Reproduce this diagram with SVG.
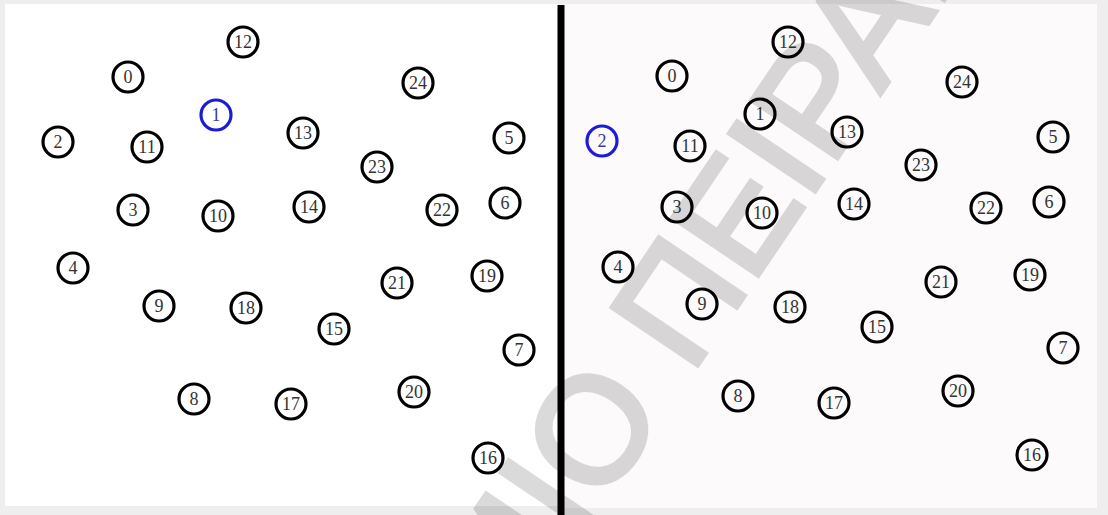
<svg xmlns="http://www.w3.org/2000/svg" width="1108" height="515" viewBox="0 0 1108 515">
  <style>
    .n circle { fill: none; stroke: #000; stroke-width: 3.2; }
    .n text { font-family: "Liberation Serif", "Times New Roman", serif; font-size: 18px; fill: #333; text-anchor: middle; dominant-baseline: central; }
    .sel circle { stroke: #1c1cd8; }
    .sel text { fill: #3a3aa0; }
    .wm { font-family: "Liberation Sans", Arial, sans-serif; font-size: 150px; fill: #000; stroke: #000; stroke-width: 5; }
  </style>
  <rect x="0" y="0" width="1108" height="515" fill="#eeeeee"/>
  <rect x="5" y="4" width="553" height="502" fill="#ffffff"/>
  <rect x="562" y="4" width="535" height="504" fill="#fcfafb"/>
  <rect id="divider" x="557.5" y="5" width="7" height="510" fill="#000"/>

  <g id="left-panel">
    <g id="L0" class="n"><circle cx="128" cy="77" r="15"/><text x="128" y="77">0</text></g>
    <g id="L1" class="n sel"><circle cx="216" cy="115" r="15"/><text x="216" y="115">1</text></g>
    <g id="L2" class="n"><circle cx="58" cy="142" r="15"/><text x="58" y="142">2</text></g>
    <g id="L3" class="n"><circle cx="133" cy="210" r="15"/><text x="133" y="210">3</text></g>
    <g id="L4" class="n"><circle cx="73" cy="268" r="15"/><text x="73" y="268">4</text></g>
    <g id="L5" class="n"><circle cx="509" cy="138" r="15"/><text x="509" y="138">5</text></g>
    <g id="L6" class="n"><circle cx="505" cy="203" r="15"/><text x="505" y="203">6</text></g>
    <g id="L7" class="n"><circle cx="519" cy="350" r="15"/><text x="519" y="350">7</text></g>
    <g id="L8" class="n"><circle cx="194" cy="399" r="15"/><text x="194" y="399">8</text></g>
    <g id="L9" class="n"><circle cx="159" cy="306" r="15"/><text x="159" y="306">9</text></g>
    <g id="L10" class="n"><circle cx="218" cy="216" r="15"/><text x="218" y="216">10</text></g>
    <g id="L11" class="n"><circle cx="147" cy="147" r="15"/><text x="147" y="147">11</text></g>
    <g id="L12" class="n"><circle cx="243" cy="42" r="15"/><text x="243" y="42">12</text></g>
    <g id="L13" class="n"><circle cx="303" cy="133" r="15"/><text x="303" y="133">13</text></g>
    <g id="L14" class="n"><circle cx="309" cy="207" r="15"/><text x="309" y="207">14</text></g>
    <g id="L15" class="n"><circle cx="334" cy="329" r="15"/><text x="334" y="329">15</text></g>
    <g id="L16" class="n"><circle cx="488" cy="458" r="15"/><text x="488" y="458">16</text></g>
    <g id="L17" class="n"><circle cx="291" cy="404" r="15"/><text x="291" y="404">17</text></g>
    <g id="L18" class="n"><circle cx="246" cy="308" r="15"/><text x="246" y="308">18</text></g>
    <g id="L19" class="n"><circle cx="487" cy="276" r="15"/><text x="487" y="276">19</text></g>
    <g id="L20" class="n"><circle cx="414" cy="392" r="15"/><text x="414" y="392">20</text></g>
    <g id="L21" class="n"><circle cx="397" cy="283" r="15"/><text x="397" y="283">21</text></g>
    <g id="L22" class="n"><circle cx="442" cy="210" r="15"/><text x="442" y="210">22</text></g>
    <g id="L23" class="n"><circle cx="377" cy="167" r="15"/><text x="377" y="167">23</text></g>
    <g id="L24" class="n"><circle cx="418" cy="83" r="15"/><text x="418" y="83">24</text></g>
  </g>

  <g id="right-panel">
    <g id="R0" class="n"><circle cx="672" cy="76" r="15"/><text x="672" y="76">0</text></g>
    <g id="R1" class="n"><circle cx="760" cy="114" r="15"/><text x="760" y="114">1</text></g>
    <g id="R2" class="n sel"><circle cx="602" cy="141" r="15"/><text x="602" y="141">2</text></g>
    <g id="R3" class="n"><circle cx="677" cy="207" r="15"/><text x="677" y="207">3</text></g>
    <g id="R4" class="n"><circle cx="618" cy="267" r="15"/><text x="618" y="267">4</text></g>
    <g id="R5" class="n"><circle cx="1053" cy="137" r="15"/><text x="1053" y="137">5</text></g>
    <g id="R6" class="n"><circle cx="1049" cy="202" r="15"/><text x="1049" y="202">6</text></g>
    <g id="R7" class="n"><circle cx="1063" cy="348" r="15"/><text x="1063" y="348">7</text></g>
    <g id="R8" class="n"><circle cx="738" cy="396" r="15"/><text x="738" y="396">8</text></g>
    <g id="R9" class="n"><circle cx="702" cy="304" r="15"/><text x="702" y="304">9</text></g>
    <g id="R10" class="n"><circle cx="762" cy="213" r="15"/><text x="762" y="213">10</text></g>
    <g id="R11" class="n"><circle cx="690" cy="146" r="15"/><text x="690" y="146">11</text></g>
    <g id="R12" class="n"><circle cx="788" cy="42" r="15"/><text x="788" y="42">12</text></g>
    <g id="R13" class="n"><circle cx="847" cy="132" r="15"/><text x="847" y="132">13</text></g>
    <g id="R14" class="n"><circle cx="854" cy="204" r="15"/><text x="854" y="204">14</text></g>
    <g id="R15" class="n"><circle cx="877" cy="327" r="15"/><text x="877" y="327">15</text></g>
    <g id="R16" class="n"><circle cx="1032" cy="455" r="15"/><text x="1032" y="455">16</text></g>
    <g id="R17" class="n"><circle cx="834" cy="403" r="15"/><text x="834" y="403">17</text></g>
    <g id="R18" class="n"><circle cx="790" cy="307" r="15"/><text x="790" y="307">18</text></g>
    <g id="R19" class="n"><circle cx="1030" cy="275" r="15"/><text x="1030" y="275">19</text></g>
    <g id="R20" class="n"><circle cx="958" cy="391" r="15"/><text x="958" y="391">20</text></g>
    <g id="R21" class="n"><circle cx="941" cy="282" r="15"/><text x="941" y="282">21</text></g>
    <g id="R22" class="n"><circle cx="986" cy="208" r="15"/><text x="986" y="208">22</text></g>
    <g id="R23" class="n"><circle cx="921" cy="165" r="15"/><text x="921" y="165">23</text></g>
    <g id="R24" class="n"><circle cx="962" cy="82" r="15"/><text x="962" y="82">24</text></g>
  </g>

  <g id="connectors"/>

  <g id="watermark" opacity="0.14" transform="translate(590,428) rotate(-56)">
    <text class="wm" x="58" y="54" text-anchor="end">ΠΑΝΕΠΙΣΤΗΜΙΟ</text>
    <text class="wm" x="100" y="54">ΠΕΙΡΑΙΩΣ</text>
  </g>
</svg>
